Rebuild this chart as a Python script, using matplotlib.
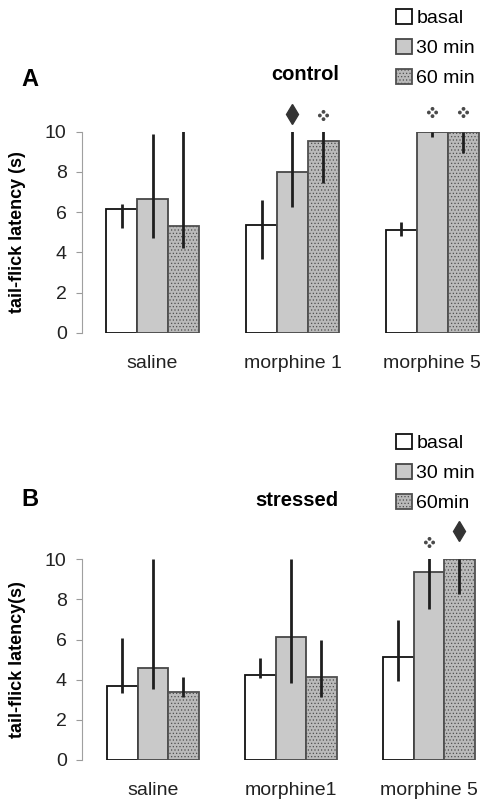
import numpy as np
import matplotlib.pyplot as plt
from matplotlib.path import Path
from matplotlib.patches import Patch

plt.rcParams['font.family'] = ['Liberation Sans', 'DejaVu Sans']
plt.rcParams['hatch.color'] = '#979797'
plt.rcParams['hatch.linewidth'] = 0.5

series = ['basal', '30 min', '60 min']
legend_b = ['basal', '30 min', '60min']
groups_a = ['saline', 'morphine 1', 'morphine 5']
groups_b = ['saline', 'morphine1', 'morphine 5']

# control (A): bar heights and error bar ends, one list per time point
ctrl_mean = [[6.14, 5.34, 5.11], [6.65, 7.98, 10.0], [5.31, 9.54, 10.0]]
ctrl_hi = [[6.40, 6.60, 5.52], [9.87, 10.08, 10.0], [10.03, 10.08, 10.0]]
ctrl_lo = [[5.19, 3.65, 4.81], [4.69, 6.24, 9.75], [4.20, 7.46, 8.96]]

# stressed (B)
str_mean = [[3.69, 4.22, 5.12], [4.60, 6.11, 9.35], [3.37, 4.15, 10.0]]
str_hi = [[6.10, 5.10, 6.98], [10.0, 10.0, 10.08], [4.15, 5.98, 10.0]]
str_lo = [[3.36, 4.07, 3.94], [3.52, 3.82, 7.51], [3.16, 3.16, 8.26]]

# significance symbols: (group, series, kind, y)
ctrl_marks = [(1, 1, 'diamond', 10.9), (1, 2, 'dots', 10.85),
              (2, 1, 'dots', 11.0), (2, 2, 'dots', 11.0)]
str_marks = [(2, 1, 'dots', 10.85), (2, 2, 'diamond', 11.4)]

faces = ['white', '#c9c9c9', '#bababa']
edges = ['#111111', '#474747', '#505050']
hatches = [None, None, '.....']

dots = Path.make_compound_path(*[Path.circle(c, 0.55) for c in [(0, 1.05), (1.05, 0), (0, -1.05), (-1.05, 0)]])

W, H = 484, 799
fig = plt.figure(figsize=(W / 100, H / 100), dpi=100)


def panel(rect, xlim, groups, mean, hi, lo, marks, ylab):
    ax = fig.add_axes(rect)
    x = np.arange(len(groups))
    w = 0.221
    for i in range(3):
        xs = x + (i - 1) * w
        ax.bar(xs, mean[i], w, color=faces[i], edgecolor=edges[i],
               linewidth=1.3, hatch=hatches[i], zorder=2)
        ax.vlines(xs, lo[i], hi[i], color='#1e1e1e', lw=2, zorder=3)
    for g, s, kind, y in marks:
        xm = g + (s - 1) * w
        if kind == 'diamond':
            ax.plot(xm, y, marker='d', ms=10, color='#333333', clip_on=False)
        else:
            ax.plot(xm, y, marker=dots, ms=8, color='#4a4a4a', mew=0, clip_on=False)
    ax.set_xlim(*xlim)
    ax.set_ylim(0, 10)
    ax.set_yticks(range(0, 11, 2))
    ax.set_xticks(x)
    ax.set_xticklabels(groups, fontsize=14, color='#222222')
    ax.tick_params(axis='x', length=0, pad=16)
    ax.tick_params(axis='y', length=4, width=0.8, color='#9a9a9a', pad=7,
                   labelsize=14, labelcolor='#222222')
    for sp in ['top', 'right', 'bottom']:
        ax.spines[sp].set_visible(False)
    ax.spines['left'].set_color('#a0a0a0')
    ax.spines['left'].set_linewidth(0.8)
    ax.set_ylabel(ylab, fontsize=13, fontweight='bold')
    ax.yaxis.set_label_coords(-0.14, 0.5)
    return ax


panel([82 / W, 1 - 332.7 / H, 398 / W, 201 / H], (-0.504, 2.34), groups_a,
      ctrl_mean, ctrl_hi, ctrl_lo, ctrl_marks, 'tail-flick latency (s)')
panel([82 / W, 1 - 760 / H, 398 / W, 200.7 / H], (-0.514, 2.37), groups_b,
      str_mean, str_hi, str_lo, str_marks, 'tail-flick latency(s)')


def legend(labels, top):
    handles = [Patch(facecolor=faces[i], edgecolor=edges[i], hatch=hatches[i],
                     linewidth=1.3) for i in range(3)]
    fig.legend(handles, labels, loc='upper left', bbox_to_anchor=(396 / W, 1 - top / H),
               frameon=False, fontsize=14, handlelength=0.8, handleheight=0.8,
               handletextpad=0.25, labelspacing=0.6, borderpad=0, borderaxespad=0)


legend(series, 9)
legend(legend_b, 434)

fig.text(30 / W, 1 - 80 / H, 'A', fontsize=17, fontweight='bold', ha='center', va='center')
fig.text(305 / W, 1 - 74 / H, 'control', fontsize=14.5, fontweight='bold', ha='center', va='center')
fig.text(30 / W, 1 - 500 / H, 'B', fontsize=17, fontweight='bold', ha='center', va='center')
fig.text(297 / W, 1 - 500 / H, 'stressed', fontsize=14.5, fontweight='bold', ha='center', va='center')

fig.savefig('out.png', dpi=100)
